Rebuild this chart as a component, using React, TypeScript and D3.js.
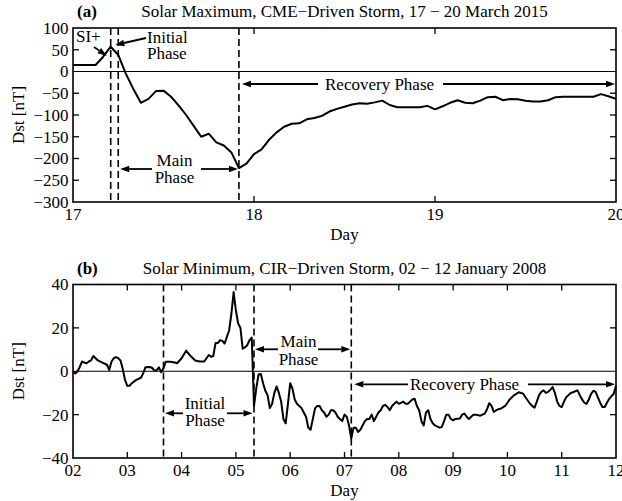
import * as d3 from "d3";

// ---- data ----
// (a) 17-20 March 2015, hourly Dst [nT], hour 0 = 17 March 00 UT
const maxHours = d3.range(0, 73);
const maxDst = [
  15, 15, 15, 15, 34, 57, 38, -5, -40, -72, -63, -45, -44, -58, -78, -100,
  -125, -150, -143, -163, -170, -186, -222, -212, -190, -179, -157, -140, -127,
  -120, -119, -110, -107, -102, -92, -86, -81, -76, -73, -74, -71, -67, -77,
  -82, -82, -82, -82, -79, -87, -80, -72, -66, -72, -73, -67, -59, -58, -66,
  -63, -64, -67, -69, -69, -66, -59, -58, -58, -58, -58, -58, -52, -57, -63,
];
const maxTickLabels = ["17", "18", "19", "20"];
const maxYTicks = [100, 50, 0, -50, -100, -150, -200, -250, -300];
const maxPhaseHours = [5, 6, 22]; // SI+, initial phase end, Dst minimum

// (b) 02-12 January 2008, Dst [nT], hour 0 = 02 January 00 UT
const minHours = [
  0, 1, 2, 3, 4, 5, 6, 7, 8, 9, 10, 11, 13, 15, 16, 17, 18, 19, 20, 21, 22, 23,
  24, 25, 26, 27, 28, 30, 31, 32, 34, 35, 36, 37, 38, 39, 40, 41, 43, 45, 46,
  48, 50, 52, 54, 56, 58, 60, 61, 62, 63, 64, 65, 66, 67, 68, 69, 70, 71, 72,
  73, 74, 75, 76, 77, 78, 79, 80, 81, 82, 83, 84, 85, 86, 87, 88, 89, 90, 91,
  92, 93, 94, 95, 96, 97, 98, 99, 100, 101, 102, 103, 104, 105, 106, 107, 108,
  109, 110, 111, 112, 113, 114, 115, 116, 117, 118, 119, 120, 121, 122, 123,
  124, 125, 126, 127, 128, 129, 130, 131, 132, 133, 134, 135, 136, 137, 138,
  139, 140, 141, 142, 143, 144, 146, 147, 148, 149, 150, 151, 152, 153, 154,
  155, 156, 157, 158, 159, 160, 162, 163, 164, 165, 166, 167, 168, 169, 171,
  172, 173, 174, 175, 176, 177, 178, 180, 181, 182, 183, 184, 185, 186, 187,
  188, 189, 191, 192, 193, 194, 195, 196, 197, 198, 199, 200, 201, 202, 203,
  204, 205, 206, 207, 208, 209, 210, 211, 212, 213, 214, 215, 216, 217, 218,
  219, 220, 221, 222, 223, 224, 225, 226, 227, 228, 229, 230, 231, 232, 233,
  234, 235, 236, 237, 238, 239, 240,
];
const minDst = [
  0, -1, 0, 2, 4.5, 4, 3.7, 4.5, 5, 7, 6, 5, 4, 3, 0.6, 4.4, 6, 6.5, 6, 5, 1,
  -4, -6.7, -6.7, -5.5, -4.7, -4, -3, -1, 1.8, 2, 1.5, 0.3, 0.5, 1.8, -0.5, 1.4,
  4.4, 4.4, 4, 3.7, 6, 9.5, 7, 5, 4.5, 4.5, 7.5, 6.7, 7, 13, 13, 14.3, 14, 12.8,
  15.8, 18.8, 26.4, 36.5, 28, 22, 20, 10.4, 11, 12, 14.3, 15.5, -16, -8, -1.5,
  -1.2, -5.5, -9, -11, -17, -15, -10, -7, -10, -14, -22, -24, -15, -5.5, -8,
  -13, -15, -16, -17, -19, -21, -26, -27, -22, -17, -16, -16, -18, -19, -21,
  -20, -18, -18, -19, -21, -22, -23, -20, -21, -25, -31, -26, -26, -28, -27,
  -25, -23, -22, -22, -20, -23, -21, -19, -18, -16, -15.5, -16.5, -18, -16,
  -15, -14, -15, -14, -15, -15, -14, -13, -12.7, -16, -18, -23, -25, -19, -18,
  -22, -24, -25, -26, -25.7, -23, -20, -20, -22, -22.6, -22, -21.8, -20, -19.5,
  -21, -22, -21, -20, -20, -20.5, -20, -19.5, -17.5, -14.7, -16, -18.8, -18,
  -17.5, -17.3, -16, -14.5, -13, -12, -11, -10.4, -9.7, -10, -10.4, -12, -13.5,
  -15, -16, -16.8, -14, -11, -9.5, -8.8, -10, -9.5, -8.5, -7.3, -10, -14, -16,
  -16.5, -14, -12, -11, -10, -9.7, -9.2, -8.8, -11, -13, -14.5, -15, -13, -10.4,
  -9, -9.5, -12, -14.5, -16.5, -16.5, -14.5, -12.7, -11.5, -10.4, -6.6,
];
const minTickLabels = ["02", "03", "04", "05", "06", "07", "08", "09", "10", "11", "12"];
const minYTicks = [40, 20, 0, -20, -40];
const minPhaseHours = [40, 80, 123]; // initial phase start, main phase start, Dst minimum

const FONT = "'Liberation Serif', 'Times New Roman', serif";
const FS = 17;
const L = 73;
const R = 616;

function Arrow({ x1, y1, x2, y2 }) {
  const a = Math.atan2(y2 - y1, x2 - x1);
  const len = 9;
  const w = 3.3;
  const bx = x2 - len * Math.cos(a);
  const by = y2 - len * Math.sin(a);
  const px = -Math.sin(a) * w;
  const py = Math.cos(a) * w;
  return (
    <g>
      <line x1={x1} y1={y1} x2={bx} y2={by} stroke="black" strokeWidth={1.8} />
      <polygon points={`${x2},${y2} ${bx + px},${by + py} ${bx - px},${by - py}`} fill="black" />
    </g>
  );
}

function Panel({ top, bottom, hours, values, hourMax, yDomain, yTicks, tickLabels, dashed, tag, title, children }) {
  const x = d3.scaleLinear().domain([0, hourMax]).range([L, R]);
  const y = d3.scaleLinear().domain(yDomain).range([bottom, top]);
  const line = d3.line().x((d) => x(d[0])).y((d) => y(d[1]));
  const pts = hours.map((h, i) => [h, values[i]]);
  const xt = tickLabels.map((t, i) => ({ t, h: (i * hourMax) / (tickLabels.length - 1) }));
  const tl = 6;
  return (
    <g fontFamily={FONT} fontSize={FS}>
      <text x={77} y={top - 11} fontWeight="bold">{tag}</text>
      <text x={(L + R) / 2} y={top - 11} textAnchor="middle">{title}</text>
      <line x1={L} x2={R} y1={y(0)} y2={y(0)} stroke="black" strokeWidth={1} />
      {dashed.map((h) => (
        <line key={h} x1={x(h)} x2={x(h)} y1={top} y2={bottom} stroke="black" strokeWidth={1.6} strokeDasharray="7,4" />
      ))}
      <path d={line(pts)} fill="none" stroke="black" strokeWidth={2} strokeLinejoin="round" />
      {children(x, y)}
      {yTicks.map((v) => (
        <g key={v}>
          {v !== yDomain[0] && v !== yDomain[1] && v !== 0 && (
            <>
              <line x1={L} x2={L + tl} y1={y(v)} y2={y(v)} stroke="black" strokeWidth={1.3} />
              <line x1={R} x2={R - tl} y1={y(v)} y2={y(v)} stroke="black" strokeWidth={1.3} />
            </>
          )}
          <text x={68.5} y={y(v)} dy="0.35em" textAnchor="end">{v < 0 ? "\u2212" + Math.abs(v) : v}</text>
        </g>
      ))}
      {xt.map(({ t, h }, i) => (
        <g key={t}>
          {i > 0 && i < xt.length - 1 && (
            <>
              <line x1={x(h)} x2={x(h)} y1={bottom} y2={bottom - tl} stroke="black" strokeWidth={1.3} />
              <line x1={x(h)} x2={x(h)} y1={top} y2={top + tl} stroke="black" strokeWidth={1.3} />
            </>
          )}
          <text x={x(h)} y={bottom + 18} textAnchor="middle">{t}</text>
        </g>
      ))}
      <rect x={L} y={top} width={R - L} height={bottom - top} fill="none" stroke="black" strokeWidth={1.6} />
      <text x={(L + R) / 2} y={bottom + 38} textAnchor="middle">Day</text>
      <text transform={`translate(24,${(top + bottom) / 2}) rotate(-90)`} textAnchor="middle">Dst [nT]</text>
    </g>
  );
}

export default function App() {
  return (
    <svg width={622} height={501} style={{ position: "absolute", left: 0, top: 0, background: "white" }}>
      <Panel
        top={28}
        bottom={202}
        hours={maxHours}
        values={maxDst}
        hourMax={72}
        yDomain={[-300, 100]}
        yTicks={maxYTicks}
        tickLabels={maxTickLabels}
        dashed={maxPhaseHours}
        tag="(a)"
        title={"Solar Maximum, CME\u2212Driven Storm, 17 \u2212 20 March 2015"}
      >
        {(x, y) => (
          <g>
            <text x={76} y={42}>SI+</text>
            <Arrow x1={94} y1={47} x2={x(maxPhaseHours[0]) - 4} y2={y(maxDst[5]) + 9} />
            <text x={147} y={42.5}>Initial</text>
            <text x={147} y={59}>Phase</text>
            <Arrow x1={146} y1={38} x2={x(maxPhaseHours[1]) - 3} y2={45} />
            <text x={174.5} y={166} textAnchor="middle">Main</text>
            <text x={174.5} y={183} textAnchor="middle">Phase</text>
            <Arrow x1={152} y1={169} x2={x(maxPhaseHours[1]) + 2} y2={169} />
            <Arrow x1={201} y1={169} x2={x(maxPhaseHours[2]) - 1} y2={169} />
            <text x={325} y={89.5}>Recovery Phase</text>
            <Arrow x1={318} y1={84} x2={x(maxPhaseHours[2]) + 3} y2={84} />
            <Arrow x1={443} y1={84} x2={R - 1} y2={84} />
          </g>
        )}
      </Panel>
      <Panel
        top={284.5}
        bottom={458}
        hours={minHours}
        values={minDst}
        hourMax={240}
        yDomain={[-40, 40]}
        yTicks={minYTicks}
        tickLabels={minTickLabels}
        dashed={minPhaseHours}
        tag="(b)"
        title={"Solar Minimum, CIR\u2212Driven Storm, 02 \u2212 12 January 2008"}
      >
        {(x, y) => (
          <g>
            <text x={298.5} y={346.7} textAnchor="middle">Main</text>
            <text x={298.5} y={364.5} textAnchor="middle">Phase</text>
            <Arrow x1={278} y1={349.3} x2={x(minPhaseHours[1]) + 1} y2={349.3} />
            <Arrow x1={318} y1={349.3} x2={x(minPhaseHours[2]) - 1} y2={349.3} />
            <text x={205} y={409.3} textAnchor="middle">Initial</text>
            <text x={205} y={426} textAnchor="middle">Phase</text>
            <Arrow x1={183} y1={413.3} x2={x(minPhaseHours[0]) + 1.5} y2={413.3} />
            <Arrow x1={227} y1={413.3} x2={x(minPhaseHours[1]) - 1.5} y2={413.3} />
            <text x={410} y={390}>Recovery Phase</text>
            <Arrow x1={408} y1={384.3} x2={x(minPhaseHours[2]) + 3} y2={384.3} />
            <Arrow x1={528} y1={384.3} x2={R - 1} y2={384.3} />
          </g>
        )}
      </Panel>
    </svg>
  );
}
